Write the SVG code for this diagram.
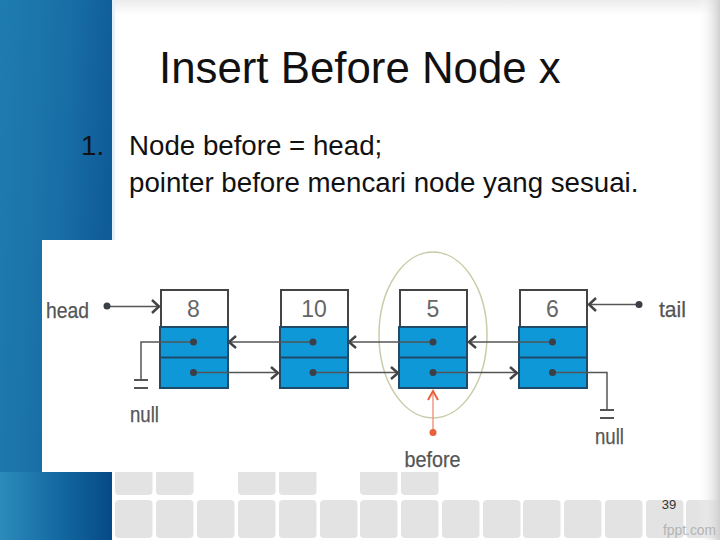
<svg xmlns="http://www.w3.org/2000/svg" width="720" height="540" viewBox="0 0 720 540">
<style>
text{font-family:"Liberation Sans",Arial,sans-serif}
.t{font-size:27.7px;fill:#111}
.l{font-size:22px;fill:#555;text-anchor:middle;stroke:#555;stroke-width:.25}
.n{font-size:23px;fill:#666;text-anchor:middle}
.w{fill:#fff;stroke:#444;stroke-width:2}
.b{fill:#0e98d8;stroke:#1f4a68;stroke-width:2}
.c{fill:none;stroke:#555;stroke-width:1.5}
.g{fill:none;stroke:#555;stroke-width:2}
.d{fill:#3a3f48}
.a{fill:none;stroke:#444;stroke-width:2.500}
.k{fill:#e3e3e3}
</style>
<defs>
<linearGradient id="bl" x1="0" y1="0" x2="1" y2="0.25"><stop offset="0" stop-color="#1f7cb0"/><stop offset=".6" stop-color="#186ea6"/><stop offset="1" stop-color="#0f5b98"/></linearGradient>
<linearGradient id="bb" x1="0" y1="0" x2="1" y2="0"><stop offset="0" stop-color="#2d8bbb"/><stop offset=".5" stop-color="#146aa3"/><stop offset="1" stop-color="#064a86"/></linearGradient>
<linearGradient id="sr" x1="0" y1="0" x2="1" y2="0"><stop offset="0" stop-color="#fff" stop-opacity="0"/><stop offset="1" stop-color="#cfcfcf"/></linearGradient>
<linearGradient id="st" x1="0" y1="0" x2="0" y2="1"><stop offset="0" stop-color="#ececec"/><stop offset="1" stop-color="#fff"/></linearGradient>
<rect id="tile" width="37.5" height="38" rx="4"/>
</defs>
<rect width="720" height="540" fill="#fff"/>
<rect x="112" width="608" height="15" fill="url(#st)"/>
<rect width="112" height="540" fill="url(#bl)"/>
<rect y="472" width="112" height="68" fill="url(#bb)"/>
<rect x="112" width="3" height="240" fill="#e4f0f8"/>
<g class="k">
<use href="#tile" x="115" y="457"/><use href="#tile" x="156" y="457"/><use href="#tile" x="238" y="457"/><use href="#tile" x="279" y="457"/><use href="#tile" x="360" y="457"/><use href="#tile" x="401" y="457"/>
<use href="#tile" x="115" y="500"/><use href="#tile" x="156" y="500"/><use href="#tile" x="197" y="500"/><use href="#tile" x="238" y="500"/><use href="#tile" x="279" y="500"/><use href="#tile" x="320" y="500"/><use href="#tile" x="360" y="500"/><use href="#tile" x="401" y="500"/><use href="#tile" x="442" y="500"/><use href="#tile" x="483" y="500"/><use href="#tile" x="523" y="500"/><use href="#tile" x="564" y="500"/><use href="#tile" x="605" y="500"/><use href="#tile" x="646" y="500"/><use href="#tile" x="686" y="500"/>
</g>
<rect x="42" y="240" width="660" height="232" fill="#fff"/>
<rect x="698" width="22" height="540" fill="url(#sr)"/>
<text x="159" y="83" font-size="43.800" fill="#111">Insert Before Node x</text>
<text class="t" x="81" y="155">1.</text>
<text class="t" x="129" y="155">Node before = head;</text>
<text class="t" x="129" y="192">pointer before mencari node yang sesuai.</text>
<ellipse cx="433" cy="335" rx="54" ry="83" fill="none" stroke="#c9cca8" stroke-width="1.5"/>
<g id="node-8"><rect class="w" x="161" y="290" width="67" height="37"/><rect class="b" x="160" y="327" width="68" height="61"/><path class="b" d="M160 357.500H228"/><text class="n" x="193.500" y="317">8</text></g>
<g id="node-10"><rect class="w" x="281" y="290" width="67" height="37"/><rect class="b" x="280" y="327" width="68" height="61"/><path class="b" d="M280 357.500H348"/><text class="n" x="314" y="317">10</text></g>
<g id="node-5"><rect class="w" x="400" y="290" width="67" height="37"/><rect class="b" x="399" y="327" width="68" height="61"/><path class="b" d="M399 357.500H467"/><text class="n" x="433" y="317">5</text></g>
<g id="node-6"><rect class="w" x="520" y="290" width="67" height="37"/><rect class="b" x="519" y="327" width="68" height="61"/><path class="b" d="M519 357.500H587"/><text class="n" x="552.500" y="317">6</text></g>
<g id="connectors">
<path class="c" d="M107 306.500H158"/><path class="a" d="M152 300l7 6.500l-7 6.500"/>
<path class="c" d="M639 304.500H590"/><path class="a" d="M596 298l-7 6.500l7 6.500"/>
<path class="c" d="M193 342H141V380"/><path class="g" d="M134 380H148M134 388H148"/>
<path class="c" d="M313 342H230"/><path class="a" d="M236 336l-7 6l7 6"/>
<path class="c" d="M433 342H350"/><path class="a" d="M356 336l-7 6l7 6"/>
<path class="c" d="M552 342H470"/><path class="a" d="M476 336l-7 6l7 6"/>
<path class="c" d="M193 372.500H277"/><path class="a" d="M271 367l7 6l-7 6"/>
<path class="c" d="M313 372.500H397"/><path class="a" d="M391 367l7 6l-7 6"/>
<path class="c" d="M433 372.500H516"/><path class="a" d="M510 367l7 6l-7 6"/>
<path class="c" d="M552 372.500H607V410"/><path class="g" d="M600 410H614M600 418H614"/>
<path d="M433 432V392" fill="none" stroke="#ef9a80" stroke-width="1.5"/><path d="M428 400l5-9l5 9" fill="none" stroke="#e8603c" stroke-width="2"/>
<g class="d"><circle cx="107" cy="306" r="3.500"/><circle cx="639" cy="304.500" r="3.500"/><circle cx="193.500" cy="342" r="3.500"/><circle cx="193.500" cy="372.500" r="3.500"/><circle cx="313" cy="342" r="3.500"/><circle cx="313" cy="372.500" r="3.500"/><circle cx="433" cy="342" r="3.500"/><circle cx="433" cy="372.500" r="3.500"/><circle cx="552.500" cy="342" r="3.500"/><circle cx="552.500" cy="372.500" r="3.500"/></g>
<circle cx="433" cy="432.500" r="3.500" fill="#e8603c"/>
</g>
<text class="l" x="67.500" y="318" textLength="43" lengthAdjust="spacingAndGlyphs">head</text>
<text class="l" x="672.500" y="316.500" textLength="27" lengthAdjust="spacingAndGlyphs">tail</text>
<text class="l" x="144.500" y="421.500" textLength="29" lengthAdjust="spacingAndGlyphs">null</text>
<text class="l" x="609.500" y="444" textLength="29" lengthAdjust="spacingAndGlyphs">null</text>
<text class="l" x="432.500" y="466.500" textLength="56" lengthAdjust="spacingAndGlyphs">before</text>
<text x="669" y="509" font-size="13" fill="#333" text-anchor="middle">39</text>
<text x="689.500" y="535" font-size="15" fill="#b4b4b4" text-anchor="middle" textLength="53" lengthAdjust="spacingAndGlyphs">fppt.com</text>
</svg>
